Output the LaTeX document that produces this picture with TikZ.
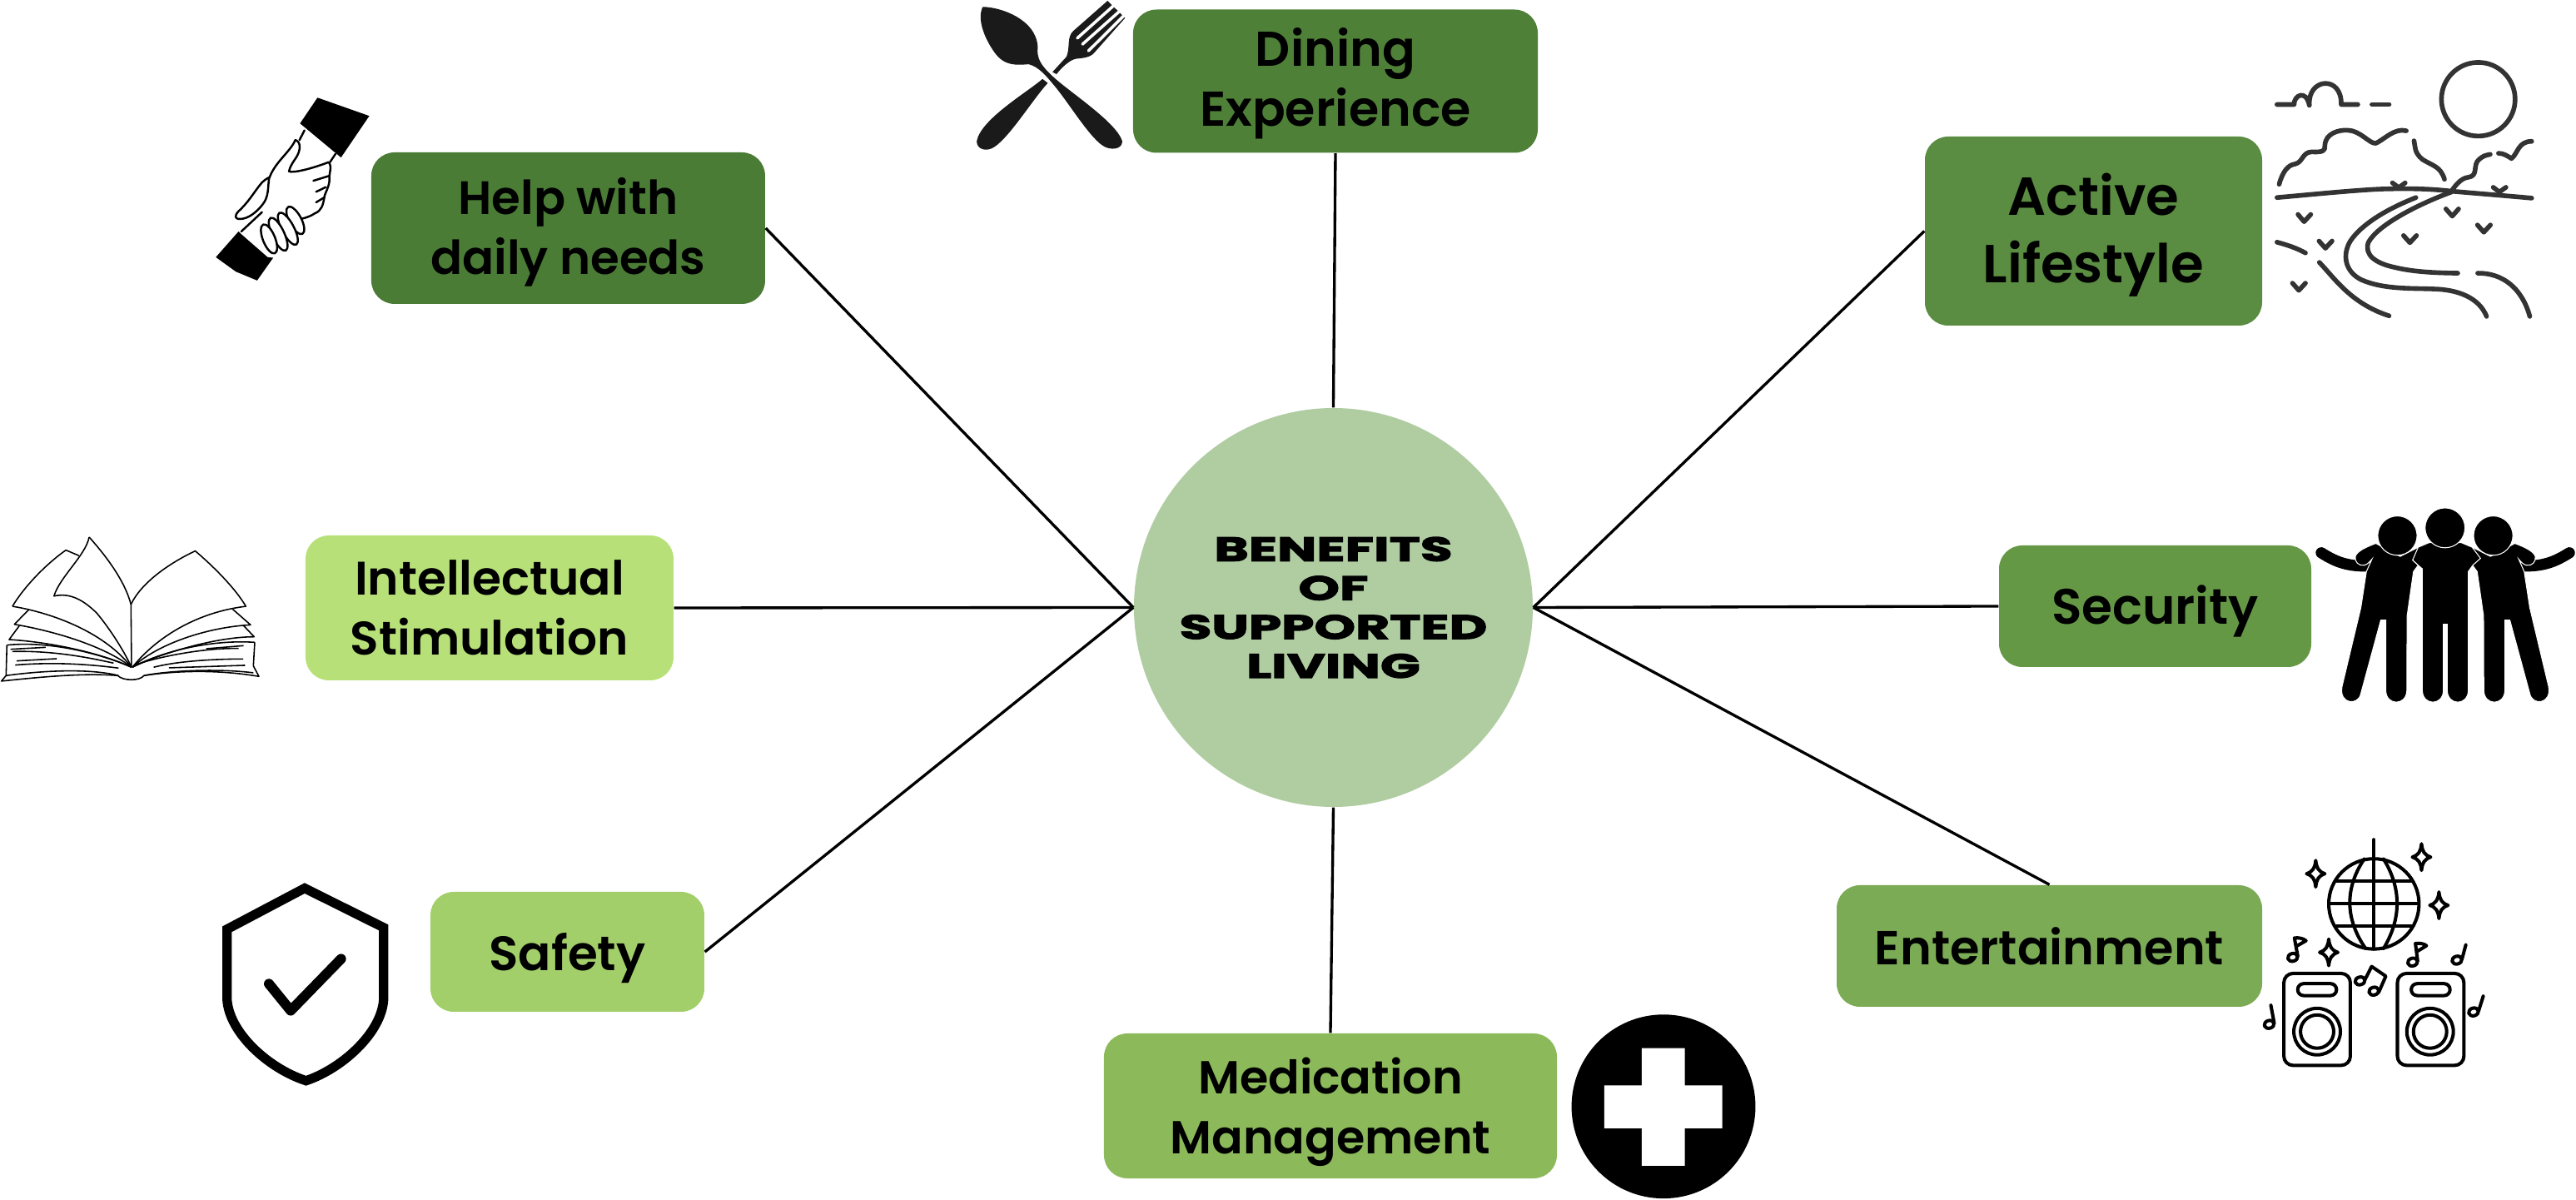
\documentclass[tikz,border=0pt]{standalone}
\usepackage{fontspec}
\setmainfont{Poppins SemiBold}
\newfontfamily\widefont[FakeStretch=1.56,FakeBold=3]{Poppins Bold}
\usepackage{xcolor}
\usepackage{tikz}
\usetikzlibrary{positioning}

\definecolor{helpgreen}{HTML}{4A7C35}
\definecolor{dininggreen}{HTML}{4F8038}
\definecolor{activegreen}{HTML}{5A8C42}
\definecolor{securitygreen}{HTML}{659845}
\definecolor{entertaingreen}{HTML}{7BAB55}
\definecolor{medicationgreen}{HTML}{8CBA5A}
\definecolor{safetygreen}{HTML}{A3CF6B}
\definecolor{intellectgreen}{HTML}{B7E178}
\definecolor{benefitsgreen}{HTML}{B0CDA2}
\definecolor{landscapegrey}{HTML}{333333}
\definecolor{cutlerygrey}{HTML}{1A1A1A}

\tikzset{
    sparkle/.pic={\draw (0,-48) .. controls (3,-20) and (10,-8) .. (33,0) .. controls (10,8) and (3,20) .. (0,48) .. controls (-3,20) and (-10,8) .. (-33,0) .. controls (-10,-8) and (-3,-20) .. (0,-48) -- cycle;},
    notehead/.pic={\draw (0,0) ellipse [x radius=18, y radius=14, rotate=15];}
}

\begin{document}
\begin{tikzpicture}[on grid,
        benefit/.style={rectangle, rounded corners=0.28cm, inner sep=0pt, align=center},
        lowered/.style={execute at begin node={\rule{0pt}{#1}}},
        link/.style={line width=0.95pt},
        zoomgrid/.style={x=0.003333cm, y=-0.003333cm},
        landscape/.style={draw=landscapegrey, line width=1.6pt, line cap=round, line join=round},
        party/.style={line width=1.15pt, line cap=round, line join=round},
        handline/.style={line width=0.7pt, line cap=round, line join=round},
        bookline/.style={line width=0.45pt, line join=round},
        person/.style={fill=black, draw=white, line width=0.3pt}]
    \useasboundingbox (-16,7.28) rectangle (14.94,-7.13);

    \node[circle, fill=benefitsgreen, minimum size=4.79cm, inner sep=0pt, align=center, font=\fontsize{11.5}{13.3}\widefont, xshift=0.015cm, yshift=-0.015cm] (benefits) {BENEFITS\\OF\\SUPPORTED\\LIVING};

    \node[benefit, lowered=35pt, fill=dininggreen, minimum width=4.86cm, minimum height=1.72cm, font=\fontsize{16.7}{20.3}\selectfont] (dining) [above right = 6.32cm and 0.025cm of benefits] {Dining\\Experience};
    \node[benefit, lowered=36pt, fill=helpgreen, minimum width=4.73cm, minimum height=1.82cm, font=\fontsize{16}{20.5}\selectfont] (help) [above left = 4.555cm and 9.19cm of benefits] {Help with\\daily needs};
    \node[benefit, lowered=40pt, fill=activegreen, minimum width=4.05cm, minimum height=2.27cm, font=\fontsize{18.3}{23}\selectfont] (active) [above right = 4.52cm and 9.13cm of benefits] {Active\\Lifestyle};
    \node[benefit, fill=intellectgreen, minimum width=4.42cm, minimum height=1.74cm, font=\fontsize{16.1}{20.5}\selectfont] (intellect) [below left = 0.005cm and 10.135cm of benefits] {Intellectual\\Stimulation};
    \node[benefit, lowered=0.97em, fill=securitygreen, minimum width=3.75cm, minimum height=1.46cm, font=\fontsize{17}{20.5}\selectfont] (security) [above right = 0.015cm and 9.87cm of benefits] {Security};
    \node[benefit, lowered=1.05em, fill=safetygreen, minimum width=3.29cm, minimum height=1.44cm, font=\fontsize{16.5}{20.5}\selectfont] (safety) [below left = 4.135cm and 9.2cm of benefits] {Safety};
    \node[benefit, fill=entertaingreen, minimum width=5.11cm, minimum height=1.46cm, font=\fontsize{16.3}{20.5}\selectfont] (entertain) [below right = 4.065cm and 8.6cm of benefits] {Entertainment};
    \node[benefit, lowered=37pt, fill=medicationgreen, minimum width=5.44cm, minimum height=1.74cm, font=\fontsize{15.8}{20.5}\selectfont] (medication) [below left = 5.985cm and 0.035cm of benefits] {Medication\\Management};

    \path[link] (dining.south) edge (benefits.north);
    \path[link] (help.east) edge (benefits.west);
    \path[link] (active.west) edge (benefits.east);
    \path[link] (intellect.east) edge (benefits.west);
    \path[link] (security.west) edge (benefits.east);
    \path[link] (safety.east) edge (benefits.west);
    \path[link] (entertain.north) edge (benefits.east);
    \path[link] (medication.north) edge (benefits.south);

    % cutlery
    \begin{scope}[x=0.004785cm, y=-0.003333cm, shift={(-4.7cm,7.28cm)}]
        \fill[cutlerygrey] (105,25) .. controls (150,25) and (240,70) .. (243,170) .. controls (240,210) and (250,235) .. (280,275) .. controls (320,330) and (440,440) .. (455,510) .. controls (455,540) and (425,545) .. (405,525) .. controls (370,490) and (320,370) .. (285,310) .. controls (265,275) and (245,240) .. (220,232) .. controls (190,235) and (160,240) .. (135,190) .. controls (110,140) and (90,70) .. (105,25) -- cycle;
        \fill[cutlerygrey] (255,285) .. controls (220,330) and (100,430) .. (90,510) .. controls (90,540) and (115,550) .. (135,530) .. controls (175,490) and (230,360) .. (268,300) -- cycle;
        \fill[cutlerygrey] (280,260) -- (315,205) .. controls (325,170) and (315,135) .. (332,112) -- (418,3) -- (462,65) -- (385,190) .. controls (375,208) and (355,210) .. (340,212) .. controls (325,215) and (305,240) .. (290,268) -- cycle;
        \draw[white, line width=1pt, line cap=round] (342,138) -- (432,22);
        \draw[white, line width=1pt, line cap=round] (355,160) -- (447,42);
        \draw[white, line width=1pt, line cap=round] (370,184) -- (458,58);
    \end{scope}

    % handshake
    \begin{scope}[zoomgrid, shift={(-13.6cm,6.28cm)}]
        \fill[black] (425,52) -- (612,118) -- (510,268) -- (362,145) -- cycle;
        \fill[black] (140,535) -- (150,545) -- (245,628) -- (265,630) -- (207,712) -- (130,680) -- (58,628) -- cycle;
        \draw[handline] (378,170) -- (360,205);
        \draw[handline] (490,255) -- (470,285);
        \draw[handline] (345,205) .. controls (325,250) and (270,285) .. (250,345) .. controls (245,380) and (250,410) .. (225,440) .. controls (205,465) and (175,490) .. (145,490) .. controls (125,490) and (125,478) .. (140,462) .. controls (175,430) and (195,395) .. (215,370) .. controls (225,355) and (240,345) .. (250,340);
        \draw[handline] (345,205) .. controls (365,210) and (365,240) .. (350,265) .. controls (340,280) and (325,300) .. (322,318) .. controls (335,325) and (400,310) .. (465,285) .. controls (480,300) and (465,330) .. (468,345) .. controls (470,370) and (450,400) .. (450,410) .. controls (445,440) and (440,460) .. (415,470) .. controls (400,480) and (385,485) .. (365,490);
        \draw[handline] (410,352) -- (465,335);
        \draw[handline] (420,392) -- (455,375);
        \draw[handline] (420,430) -- (450,412);
        \draw[handline] (225,465) -- (150,535);
        \draw[handline, fill=white] (345,495) ellipse [x radius=55, y radius=22, rotate=-62];
        \draw[handline, fill=white] (318,525) ellipse [x radius=65, y radius=22, rotate=-62];
        \draw[handline, fill=white] (283,545) ellipse [x radius=65, y radius=22, rotate=-65];
        \draw[handline, fill=white] (250,562) ellipse [x radius=56, y radius=22, rotate=-68];
    \end{scope}

    % open book
    \begin{scope}[zoomgrid, shift={(-16cm,0.98cm)}]
        \draw[bookline] (45,295) .. controls (90,220) and (170,140) .. (238,92) -- (285,112);
        \draw[bookline] (322,45) .. controls (310,110) and (215,190) .. (195,258) .. controls (250,245) and (300,270) .. (350,320) .. controls (400,380) and (450,460) .. (475,515);
        \draw[bookline] (322,45) .. controls (380,110) and (450,200) .. (473,288) -- (475,515);
        \draw[bookline] (473,288) .. controls (510,210) and (610,140) .. (705,95) .. controls (770,150) and (850,230) .. (888,295) .. controls (720,315) and (570,400) .. (478,515);
        \draw[bookline] (45,295) .. controls (170,315) and (370,380) .. (475,515);
        \draw[bookline] (103,308) -- (52,360) .. controls (200,385) and (380,440) .. (475,515);
        \draw[bookline] (70,365) -- (33,415) .. controls (200,425) and (380,470) .. (475,515);
        \draw[bookline] (840,305) -- (905,362) .. controls (750,370) and (570,430) .. (478,515);
        \draw[bookline] (880,365) -- (918,405) .. controls (780,405) and (580,465) .. (478,515);
        \draw[bookline] (25,435) -- (22,545) -- (5,565) .. controls (150,550) and (300,535) .. (425,545) .. controls (445,565) and (505,565) .. (520,545) .. controls (650,525) and (800,525) .. (935,548) -- (915,510) -- (920,425);
        \draw[bookline] (25,435) .. controls (170,420) and (350,460) .. (475,515);
        \draw[bookline] (920,425) .. controls (780,415) and (600,450) .. (478,515);
        \draw[bookline] (22,545) .. controls (170,525) and (330,520) .. (428,545);
        \draw[bookline] (915,535) .. controls (800,520) and (620,525) .. (520,545);
        \draw[bookline] (38,450) -- (165,443);
        \draw[bookline] (45,458) .. controls (180,455) and (300,475) .. (410,500);
        \draw[bookline] (60,492) -- (205,484);
        \draw[bookline] (55,507) .. controls (200,495) and (330,505) .. (428,518);
        \draw[bookline] (745,448) -- (880,437);
        \draw[bookline] (490,505) .. controls (600,470) and (750,445) .. (862,447);
        \draw[bookline] (555,515) .. controls (650,490) and (800,485) .. (878,485);
        \draw[bookline] (610,517) -- (885,508);
    \end{scope}

    % shield
    \begin{scope}[x=0.004082cm, y=-0.003333cm, shift={(-13.6cm,-3.12cm)}]
        \draw[line width=3.2pt, miter limit=4] (308,80) -- (540,222) -- (540,480) .. controls (535,600) and (420,730) .. (312,775) .. controls (200,730) and (85,600) .. (80,480) -- (80,228) -- cycle;
        \draw[line width=3.4pt, line cap=round, line join=round] (203,425) -- (267,522) -- (415,335);
    \end{scope}

    % landscape
    \begin{scope}[zoomgrid, shift={(10.5cm,6.78cm)}]
        \draw[landscape] (982,208) circle [radius=133];
        \draw[landscape] (255,227) -- (317,227) .. controls (315,195) and (360,170) .. (372,230) .. controls (365,130) and (490,120) .. (487,227) -- (547,227);
        \draw[landscape] (598,227) -- (660,227);
        \draw[landscape] (263,515) .. controls (275,470) and (295,445) .. (320,442) .. controls (350,435) and (345,400) .. (380,398) .. controls (420,400) and (430,395) .. (428,375) .. controls (430,330) and (480,318) .. (510,320) .. controls (555,320) and (590,370) .. (612,367) .. controls (640,355) and (680,310) .. (722,322);
        \draw[landscape] (750,358) .. controls (755,380) and (750,400) .. (780,425) .. controls (820,450) and (845,450) .. (860,497);
        \draw[landscape] (255,563) .. controls (400,550) and (550,535) .. (640,532) .. controls (720,530) and (800,530) .. (885,540) .. controls (1000,550) and (1100,558) .. (1175,565);
        \draw[landscape] (885,540) .. controls (905,510) and (925,492) .. (945,490) .. controls (985,485) and (960,445) .. (985,425) .. controls (1000,412) and (1010,410) .. (1025,407);
        \draw[landscape] (1055,403) .. controls (1075,403) and (1090,415) .. (1102,422) .. controls (1125,405) and (1125,360) .. (1175,360);
        \draw[landscape] (757,563) .. controls (650,605) and (560,660) .. (520,720) .. controls (490,770) and (500,830) .. (560,860) .. controls (640,895) and (740,890) .. (820,893) .. controls (910,895) and (985,925) .. (1012,992);
        \draw[landscape] (885,543) .. controls (770,585) and (620,660) .. (585,725) .. controls (570,770) and (610,800) .. (680,815) .. controls (750,832) and (830,835) .. (908,836);
        \draw[landscape] (980,836) .. controls (1070,835) and (1140,890) .. (1168,992);
        \draw[landscape] (255,724) .. controls (295,735) and (325,745) .. (358,763);
        \draw[landscape] (408,797) .. controls (460,850) and (520,945) .. (660,990);
        \draw[landscape] (672,510) -- (695,527) -- (718,510);
        \draw[landscape] (1036,526) -- (1058,543) -- (1082,526);
        \draw[landscape] (331,624) -- (353,650) -- (377,624);
        \draw[landscape] (865,604) -- (888,630) -- (911,604);
        \draw[landscape] (979,662) -- (1002,688) -- (1026,662);
        \draw[landscape] (712,700) -- (735,726) -- (759,700);
        \draw[landscape] (407,720) -- (430,746) -- (454,720);
        \draw[landscape] (311,872) -- (334,898) -- (358,872);
    \end{scope}

    % people
    \begin{scope}[zoomgrid, shift={(10.5cm,1.48cm)}]
        \draw[line width=3.8pt, line cap=round] (415,252) .. controls (460,280) and (500,300) .. (575,300);
        \draw[line width=3.8pt, line cap=round] (1311,252) .. controls (1266,280) and (1226,300) .. (1151,300);
        \path[person] (612,218) .. controls (580,230) and (545,245) .. (538,265) .. controls (535,285) and (550,300) .. (570,297) .. controls (580,295) and (590,285) .. (598,275) -- (578,320) -- (558,450) -- (490,735) .. controls (478,800) and (550,805) .. (558,760) -- (630,495) -- (648,495) -- (648,750) .. controls (650,805) and (722,805) .. (724,750) -- (725,480) -- (748,320) -- (765,297) -- (745,278) -- (772,262) -- (765,232) -- (700,265) -- cycle;
        \path[person] (1114,218) .. controls (1146,230) and (1181,245) .. (1188,265) .. controls (1191,285) and (1176,300) .. (1156,297) .. controls (1146,295) and (1136,285) .. (1128,275) -- (1148,320) -- (1168,450) -- (1236,735) .. controls (1248,800) and (1176,805) .. (1168,760) -- (1096,495) -- (1078,495) -- (1078,750) .. controls (1076,805) and (1004,805) .. (1002,750) -- (1001,480) -- (978,320) -- (961,297) -- (981,278) -- (954,262) -- (961,232) -- (1026,265) -- cycle;
        \path[person] (765,232) -- (805,215) -- (920,215) -- (960,232) -- (990,272) -- (962,297) -- (946,320) -- (946,750) .. controls (944,805) and (872,805) .. (870,750) -- (870,510) -- (856,510) -- (856,750) .. controls (854,805) and (782,805) .. (780,750) -- (780,310) -- (765,297) -- (745,278) -- cycle;
        \path[person] (690,190) circle [radius=71];
        \path[person] (862,162) circle [radius=72];
        \path[person] (1036,190) circle [radius=71];
    \end{scope}

    % disco ball and speakers
    \begin{scope}[zoomgrid, shift={(10.5cm,-2.52cm)}, party]
        \draw (605,317) circle [radius=163];
        \draw (605,85) -- (605,480);
        \draw (445,317) -- (765,317);
        \draw (470,235) -- (740,235);
        \draw (470,398) -- (740,398);
        \draw (570,155) .. controls (500,260) and (500,370) .. (575,478);
        \draw (640,155) .. controls (705,260) and (705,370) .. (640,478);
        \path (395,208) pic {sparkle};
        \path (777,148) pic {sparkle};
        \path (840,322) pic {sparkle};
        \path (442,492) pic {sparkle};
        \draw[rounded corners=0.11cm] (280,568) rectangle (520,900);
        \draw[rounded corners=0.11cm] (690,568) rectangle (930,900);
        \draw[rounded corners=0.07cm] (330,605) rectangle (470,648);
        \draw[rounded corners=0.07cm] (740,605) rectangle (880,648);
        \draw (400,778) circle [radius=84];
        \draw (400,778) circle [radius=60];
        \draw (808,778) circle [radius=84];
        \draw (808,778) circle [radius=60];
        \path (227,752) pic {notehead};
        \draw (245,747) -- (233,683);
        \path (905,520) pic {notehead};
        \draw (923,517) -- (937,465);
        \path (965,707) pic {notehead};
        \draw (983,704) -- (1000,650);
        \path (312,510) pic {notehead};
        \draw (330,505) -- (318,440) .. controls (335,438) and (350,442) .. (360,450) -- (325,470);
        \path (745,527) pic {notehead};
        \draw (763,522) -- (755,460) .. controls (770,458) and (785,460) .. (795,468) -- (762,488);
        \path (555,595) pic {notehead};
        \path (605,632) pic {notehead};
        \draw (573,590) -- (597,543) -- (648,578) -- (623,635);
    \end{scope}

    % medical cross
    \begin{scope}[zoomgrid, shift={(2.6cm,-4.72cm)}]
        \fill[black] (415,387) circle [radius=332];
        \fill[white] (336,176) -- (492,176) -- (492,311) -- (627,311) -- (627,466) -- (492,466) -- (492,601) -- (336,601) -- (336,466) -- (201,466) -- (201,311) -- (336,311) -- cycle;
    \end{scope}
\end{tikzpicture}
\end{document}
